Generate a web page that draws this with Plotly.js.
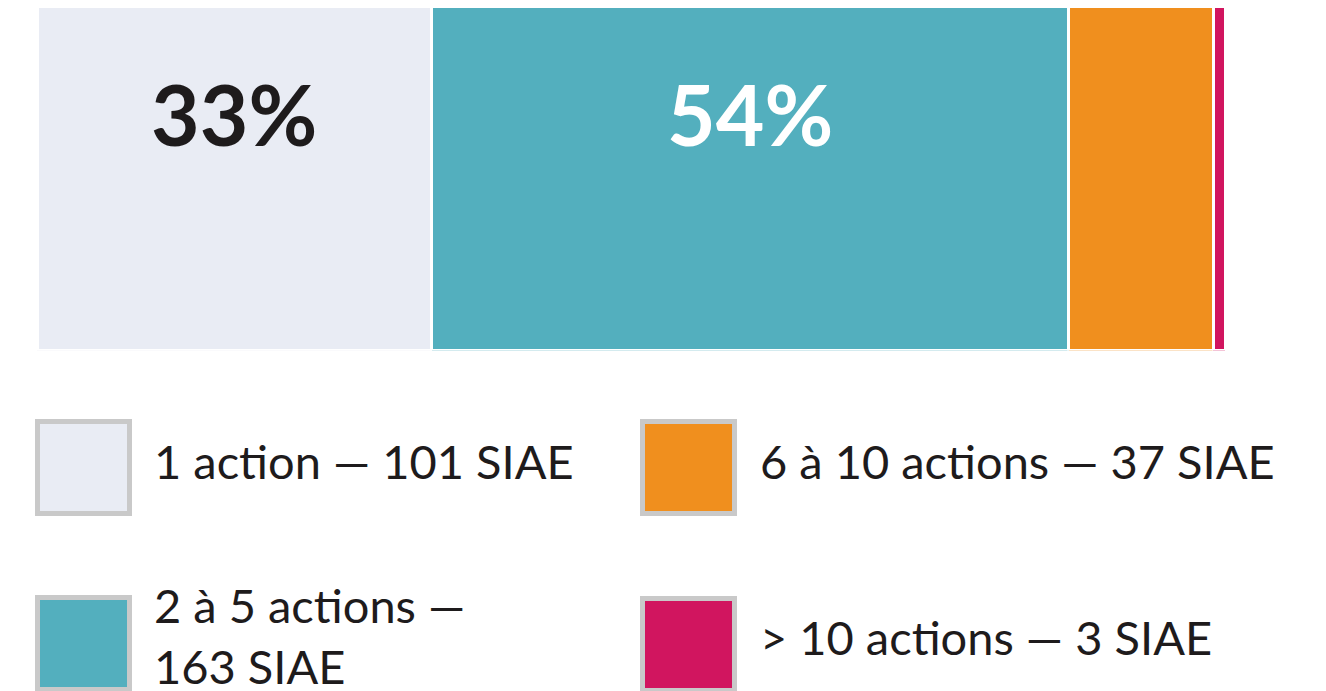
<!DOCTYPE html>
<html>
<head>
<meta charset="utf-8">
<script src="https://cdn.plot.ly/plotly-3.0.1.min.js"></script>
<style>html,body{margin:0;padding:0;background:#fff;}#chart{width:1326px;height:691px;}</style>
</head>
<body>
<div id="chart"></div>
<script>
// ---- data ----
const categories = ["1 action", "2 à 5 actions", "6 à 10 actions", "> 10 actions"];
const counts = [101, 163, 37, 3];
const legendLabels = ["1 action — 101 SIAE", "2 à 5 actions —<br>163 SIAE", "6 à 10 actions — 37 SIAE", "> 10 actions — 3 SIAE"];
const showPct = [true, true, false, false];
const colors = ["#E9ECF4", "#53AFBE", "#F08F1E", "#D1155F"];
const pctColors = ["#1E1B1C", "#FFFFFF", "#1E1B1C", "#1E1B1C"];

const W = 1326, H = 691;
const FONT = "Lato, 'Open Sans', sans-serif";
const total = counts.reduce((a, b) => a + b, 0);

const traces = categories.map((c, i) => ({
  type: "bar",
  orientation: "h",
  name: c,
  x: [counts[i]],
  y: ["SIAE"],
  marker: { color: colors[i], line: { color: "#FFFFFF", width: 3 } },
  hoverinfo: "name+x",
  showlegend: false
}));

const annotations = [];
let cum = 0;
counts.forEach((v, i) => {
  const mid = cum + v / 2;
  cum += v;
  if (showPct[i]) {
    annotations.push({
      x: mid, y: 0.19, xref: "x", yref: "y",
      text: Math.round(v / total * 100) + "%",
      showarrow: false,
      font: { family: FONT, size: 84, color: pctColors[i], weight: 700 },
      xanchor: "center", yanchor: "middle"
    });
  }
});

// legend (custom, large squares)
const px = x => x / W;
const py = y => 1 - y / H;
const legendPos = [
  { x: 35, y: 419, tx: 152, ty: 461 },
  { x: 35, y: 595, tx: 152, ty: 635 },
  { x: 640, y: 419, tx: 758, ty: 461 },
  { x: 640, y: 596, tx: 758, ty: 637 }
];
const shapes = [];
categories.forEach((c, i) => {
  const p = legendPos[i];
  shapes.push({
    type: "rect", xref: "paper", yref: "paper",
    x0: px(p.x + 2.5), x1: px(p.x + 94.5),
    y0: py(p.y + 2.5), y1: py(p.y + 94.5),
    fillcolor: colors[i],
    line: { color: "#C9C9C9", width: 5 }
  });
  annotations.push({
    x: px(p.tx), y: py(p.ty), xref: "paper", yref: "paper",
    text: legendLabels[i], showarrow: false, align: "left",
    xanchor: "left", yanchor: "middle",
    font: { family: FONT, size: 47, color: "#1E1B1C" }
  });
});

const layout = {
  width: W, height: H,
  margin: { l: 0, r: 0, t: 0, b: 0 },
  paper_bgcolor: "#FFFFFF", plot_bgcolor: "#FFFFFF",
  barmode: "stack", bargap: 0,
  showlegend: false,
  xaxis: { domain: [37 / W, 1225 / W], range: [0, total], visible: false, fixedrange: true },
  yaxis: { domain: [1 - 350.5 / H, 1 - 6.5 / H], range: [-0.5, 0.5], visible: false, fixedrange: true },
  shapes: shapes,
  annotations: annotations,
  font: { family: FONT }
};

Plotly.newPlot("chart", traces, layout, { displayModeBar: false, staticPlot: true });
</script>
</body>
</html>
